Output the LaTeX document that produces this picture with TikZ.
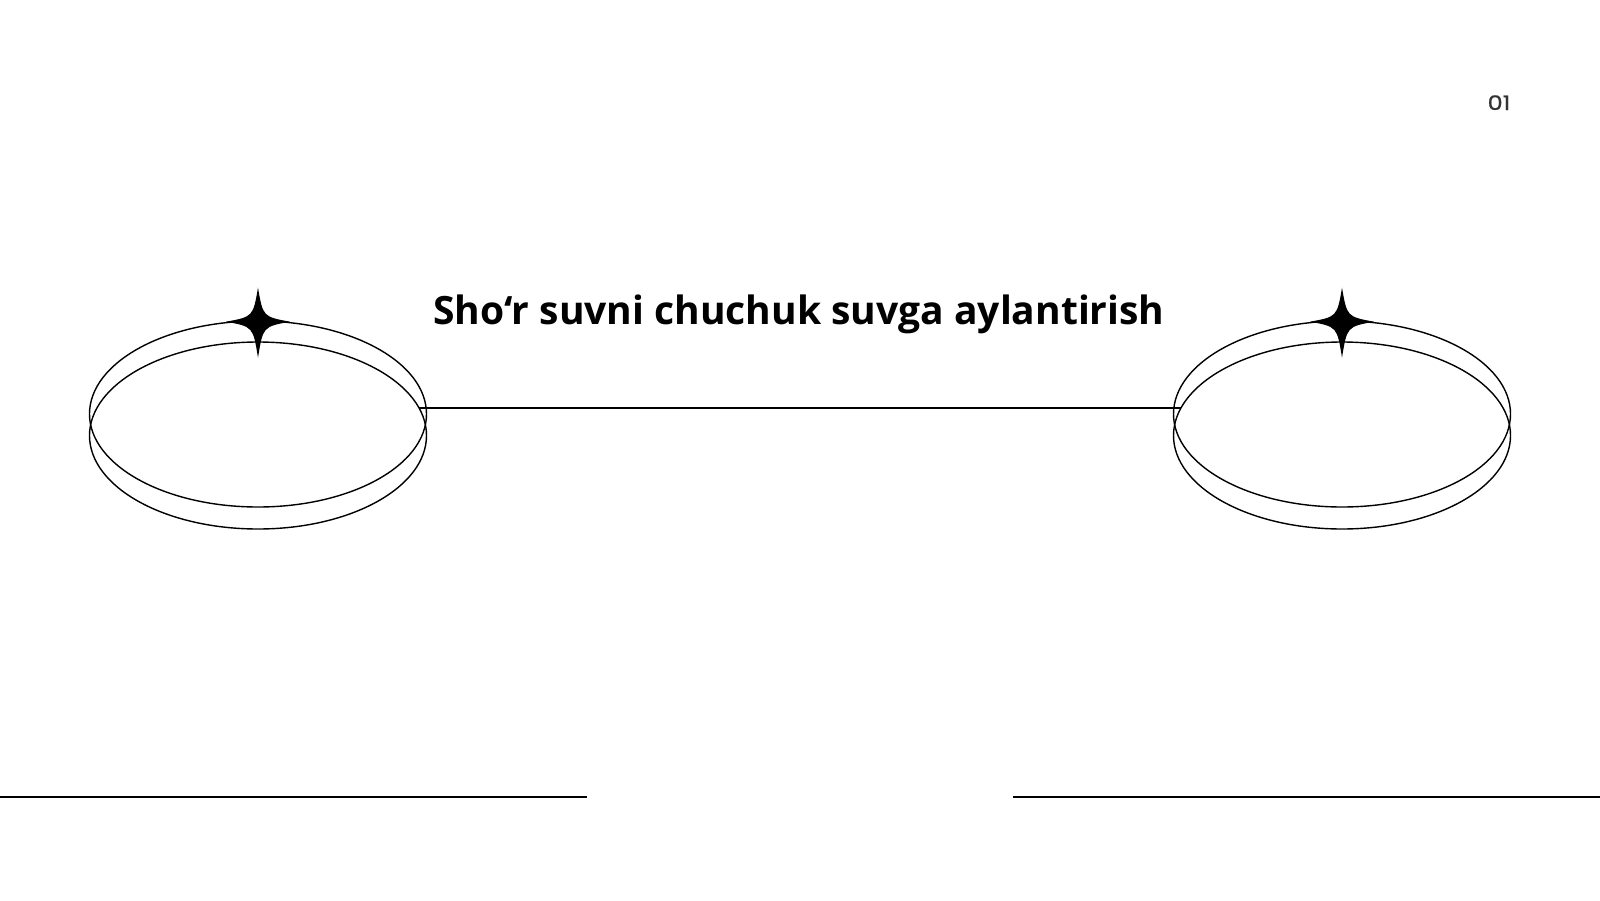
\documentclass[tikz,border=0pt]{standalone}
\usepackage{fontspec}
\setmainfont{Open Sans}
\newfontfamily\numfont[FakeBold=0.8]{Poppins}
\usetikzlibrary{shapes.geometric}
\definecolor{numgray}{HTML}{333333}
\tikzset{
  ring/.style={ellipse, draw=black, line width=1.4pt, inner sep=0pt, outer sep=0pt,
               minimum width=337pt, minimum height=186pt},
  rule/.style={draw=black, line width=1.5pt},
  sparkle/.pic={
    \fill[black] (0,-34) .. controls (5,-5) .. (32,0)
                 .. controls (5,5) .. (0,36)
                 .. controls (-5,5) .. (-32,0)
                 .. controls (-5,-5) .. cycle;
  }
}
\begin{document}
\begin{tikzpicture}[x=1pt,y=-1pt]
\useasboundingbox[fill=white] (0,0) rectangle (1600,900);
% left pair of rings
\node[ring] (upL) at (258,414) {};
\node[ring, minimum height=187pt] (lowL) at (258,435.5) {};
% right pair of rings
\node[ring] (upR) at (1342,414) {};
\node[ring, minimum height=187pt] (lowR) at (1342,435.5) {};
% sparkles
\pic at (258,321.7) {sparkle};
\pic at (1342,321.7) {sparkle};
% connector end points on the lower rings
\coordinate (cL) at (419,408);
\coordinate (cR) at (1181,408);
\draw[rule] (cL) -- (cR);
% title
\node[anchor=base, inner sep=0pt, font=\fontsize{39}{46}\selectfont\bfseries] (title) at (799,324) {Sho‘r suvni chuchuk suvga aylantirish};
% page number
\node[anchor=base, inner sep=0pt, text=numgray, xscale=1.2, font=\numfont\fontsize{20}{24}\selectfont] (num) at (1499,110) {01};
% bottom rules
\draw[rule] (0,797) -- (587,797);
\draw[rule] (1013,797) -- (1600,797);
\end{tikzpicture}
\end{document}
